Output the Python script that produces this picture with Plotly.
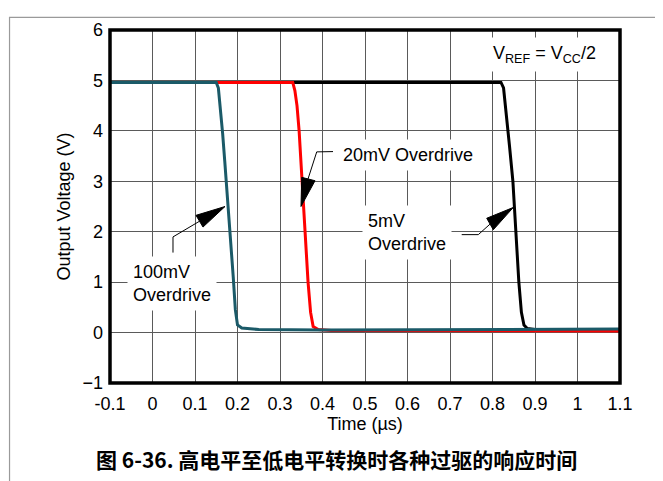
import plotly.graph_objects as go

# time axis in microseconds, output voltage in volts
t_5mv = [-0.1, 0.82, 0.826, 0.832, 0.84, 0.848, 0.855, 0.862, 0.868, 0.874, 0.882, 0.9, 1.1]
v_5mv = [4.96, 4.96, 4.85, 4.4, 3.7, 3.0, 2.0, 1.0, 0.4, 0.15, 0.08, 0.06, 0.06]

t_20mv = [-0.1, 0.33, 0.335, 0.34, 0.345, 0.352, 0.36, 0.366, 0.372, 0.378, 0.39, 0.42, 1.1]
v_20mv = [4.96, 4.96, 4.8, 4.5, 4.0, 3.0, 2.0, 1.0, 0.4, 0.12, 0.06, 0.04, 0.03]

t_100mv = [-0.1, 0.15, 0.155, 0.16, 0.165, 0.17, 0.18, 0.19, 0.195, 0.2, 0.21, 0.25, 0.4, 1.1]
v_100mv = [4.96, 4.96, 4.85, 4.45, 3.95, 3.4, 2.3, 1.1, 0.45, 0.15, 0.09, 0.06, 0.05, 0.07]

x_ticks = [-0.1, 0, 0.1, 0.2, 0.3, 0.4, 0.5, 0.6, 0.7, 0.8, 0.9, 1, 1.1]
x_labels = ['-0.1', '0', '0.1', '0.2', '0.3', '0.4', '0.5', '0.6', '0.7', '0.8', '0.9', '1', '1.1']
y_ticks = [-1, 0, 1, 2, 3, 4, 5, 6]

FONT = 'Liberation Sans, Arial, sans-serif'
TEAL = '#1b5a68'

fig = go.Figure()
fig.add_trace(go.Scatter(x=t_5mv, y=v_5mv, mode='lines', line=dict(color='#000000', width=3)))
fig.add_trace(go.Scatter(x=t_20mv, y=v_20mv, mode='lines', line=dict(color='#ff0000', width=3)))
fig.add_trace(go.Scatter(x=t_100mv, y=v_100mv, mode='lines', line=dict(color=TEAL, width=3)))

# callouts: leader line + filled triangle head
callouts = [
    # (triangle vertices, leader points)
    ([(0.1706, 2.50), (0.1024, 2.325), (0.1188, 2.092)],
     [(0.1106, 2.208), (0.0482, 1.897), (0.0482, 1.586)]),
    ([(0.3494, 2.50), (0.3511, 3.078), (0.3824, 3.011)],
     [(0.3659, 3.045), (0.3864, 3.583), (0.4247, 3.589)]),
    ([(0.8489, 2.481), (0.7864, 2.267), (0.8019, 2.039)],
     [(0.7941, 2.150), (0.7666, 1.942), (0.7275, 1.942)]),
]
shapes = []
for tri, lead in callouts:
    path = 'M' + ' L'.join(f'{x},{y}' for x, y in tri) + ' Z'
    shapes.append(dict(type='path', path=path, xref='x', yref='y',
                       fillcolor='black', line=dict(color='black', width=1)))
    lpath = 'M' + ' L'.join(f'{x},{y}' for x, y in lead)
    shapes.append(dict(type='path', path=lpath, xref='x', yref='y',
                       line=dict(color='black', width=1)))

# thick plot frame
shapes.append(dict(type='rect', xref='paper', yref='paper', x0=0, y0=0, x1=1, y1=1,
                   line=dict(color='black', width=3.5)))
# outer figure frame
shapes.append(dict(type='rect', xref='paper', yref='paper', x0=-0.197, y0=-0.3, x1=1.1, y1=1.036,
                   line=dict(color='#9a9a9a', width=1.2), layer='below'))

annotations = [
    dict(x=0.922, y=5.51, text='V<sub>REF</sub> = V<sub>CC</sub>/2', xanchor='center'),
    dict(x=0.434, y=3.53, text='20mV Overdrive', xanchor='left'),
    dict(x=0.493, y=1.975, text='5mV<br>Overdrive', xanchor='left', align='left'),
    dict(x=-0.06, y=0.964, text='100mV<br>Overdrive', xanchor='left', align='left'),
]
for a in annotations:
    a.update(xref='x', yref='y', showarrow=False, bgcolor='white', borderpad=5,
             font=dict(family=FONT, size=18, color='black'))

annotations.append(dict(
    xref='paper', yref='paper', x=0.445, y=-0.215, xanchor='center', yanchor='middle',
    text='<b>图 6-36. 高电平至低电平转换时各种过驱的响应时间</b>', showarrow=False,
    font=dict(family='Noto Sans CJK SC, sans-serif', size=21, color='black')))

# page body adds ~8px offset, so trim left/top margins to keep the plot area in place
fig.update_layout(
    width=655, height=473,
    margin=dict(l=102, r=43, t=15, b=98),
    paper_bgcolor='white', plot_bgcolor='white',
    showlegend=False,
    font=dict(family=FONT, size=18, color='black'),
    shapes=shapes, annotations=annotations,
    xaxis=dict(range=[-0.1, 1.1], tickvals=x_ticks, ticktext=x_labels,
               showgrid=True, gridcolor='#5a5a5a', gridwidth=1.2, zeroline=False,
               ticks='', ticklabelstandoff=8, tickfont=dict(size=18),
               title=dict(text='Time (µs)', standoff=1, font=dict(size=18))),
    yaxis=dict(range=[-1, 6], tickvals=y_ticks,
               showgrid=True, gridcolor='#5a5a5a', gridwidth=1.2, zeroline=False,
               ticks='', ticklabelstandoff=6, tickfont=dict(size=18),
               title=dict(text='Output Voltage (V)', standoff=7, font=dict(size=18))),
)

fig.write_html('out.html')
